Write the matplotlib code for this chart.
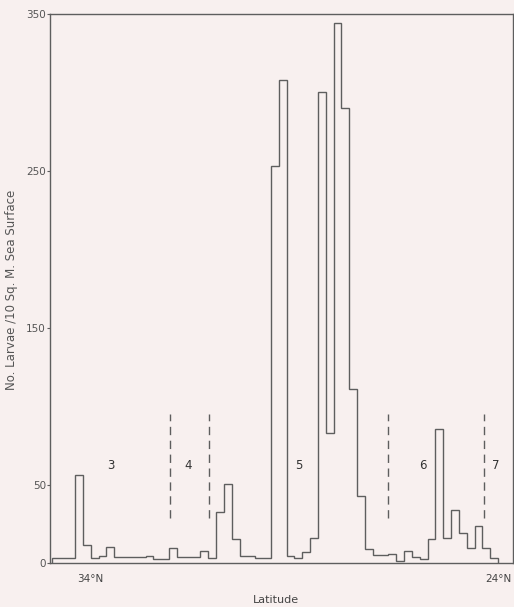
import matplotlib
matplotlib.use("Agg")
import matplotlib.pyplot as plt
import numpy as np

# larvae per 10 sq. m. sea surface, one value per station band, north -> south
larvae = [3, 3, 3,
          56, 11.5, 3.4, 4.5, 10.4, 3.6, 3.6, 3.6, 3.6, 4.7,
          2.8, 2.8, 9.3, 3.6, 3.6, 3.6, 7.8, 3.4, 32.7, 50.3,
          15.3, 4.7, 4.7, 3.4, 3.4, 253, 308, 4.7, 3.4, 6.8,
          16.1, 300, 83, 344, 290, 111, 42.7, 9, 5, 5,
          5.5, 1.3, 7.6, 4, 2.5, 15.3, 85.4, 15.7, 33.8, 19,
          9.4, 23.6, 9.4, 3]
lat_north = 34.96
lat_south = 24.0

divider_lats = [32.05, 31.1, 26.7, 24.35]
area_names = ["3", "4", "5", "6", "7"]
area_lats = [33.5, 31.6, 28.9, 25.85, 24.05]

lat_ticks = [34, 24]
lat_labels = ["34°N", "24°N"]
y_ticks = [0, 50, 150, 250, 350]

bg = "#f8f0ef"
ink = "#5e5e5e"

edges = np.linspace(lat_north, lat_south, len(larvae) + 1)

fig = plt.figure(figsize=(5.14, 6.07), dpi=100, facecolor=bg)
ax = fig.add_axes([50/514, 44/607, 463/514, 549/607], facecolor=bg)

ax.stairs(np.array(larvae)[::-1], edges[::-1], baseline=0, fill=False,
          color=ink, linewidth=1.0)

for lat in divider_lats:
    ax.plot([lat, lat], [29, 95], color=ink, linewidth=1.0,
            linestyle=(0, (6, 4)))

for name, lat in zip(area_names, area_lats):
    ax.text(lat, 62, name, ha="center", va="center", fontsize=8.5, color="#333")

ax.set_xlim(35.0, 23.635)
ax.set_ylim(0, 350)

ax.set_yticks(y_ticks)
ax.set_yticklabels([str(v) for v in y_ticks], fontsize=7.5, color="#555")
ax.set_xticks(lat_ticks)
ax.set_xticklabels(lat_labels, fontsize=7.5, color="#444")
ax.tick_params(axis="y", length=2, pad=1, color=ink)
ax.tick_params(axis="x", length=0, pad=8)

for s in ax.spines.values():
    s.set_color(ink)
    s.set_linewidth(1.0)

fig.text(276/514, 1 - 600/607, "Latitude", ha="center", va="center",
         fontsize=8, color="#444")
fig.text(12/514, 1 - 290/607, "No. Larvae /10 Sq. M. Sea Surface",
         rotation=90, ha="center", va="center", fontsize=8.5, color="#555")

fig.savefig("out.png", dpi=100, facecolor=bg)
